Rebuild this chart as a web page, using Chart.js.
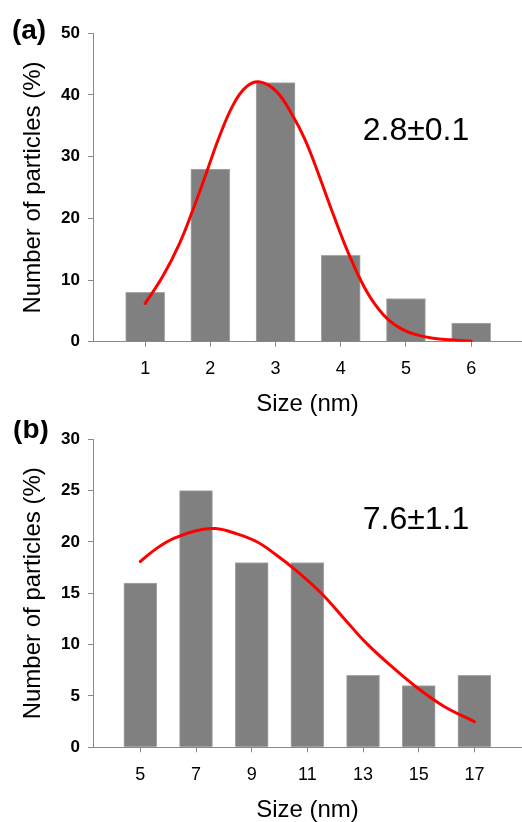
<!DOCTYPE html>
<html><head><meta charset="utf-8">
<script src="https://cdn.jsdelivr.net/npm/chart.js@4.4.1/dist/chart.umd.min.js"></script>
<style>
html,body{margin:0;padding:0;background:#fff;overflow:hidden;width:522px;height:822px;}
#ca{position:absolute;left:0;top:0;}
#cb{position:absolute;left:0;top:420px;}
</style></head><body>
<canvas id="ca" width="522" height="420" style="width:522px;height:420px"></canvas>
<canvas id="cb" width="522" height="410" style="width:522px;height:410px"></canvas>
<script>
// ---- data (a) ----
const sizesA = [1, 2, 3, 4, 5, 6];
const countsA = [8, 28, 42, 14, 7, 3];
const fitXA = [1.0, 1.27, 1.53, 1.73, 1.94, 2.14, 2.35, 2.55, 2.76, 3.02, 3.27, 3.45, 3.63, 3.89, 4.14, 4.4, 4.66, 4.91, 5.17, 5.42, 5.68, 6.0];
const fitYA = [6.2, 10.6, 16.0, 21.3, 27.4, 33.3, 38.4, 41.3, 42.1, 40.5, 36.5, 32.8, 28.0, 20.5, 13.8, 8.1, 4.3, 2.2, 1.1, 0.55, 0.3, 0.1];
const yTicksA = [0, 10, 20, 30, 40, 50];
// ---- data (b) ----
const sizesB = [5, 7, 9, 11, 13, 15, 17];
const countsB = [16, 25, 18, 18, 7, 6, 7];
const fitXB = [5.0, 5.6, 6.2, 7.0, 7.7, 8.4, 9.2, 9.9, 10.6, 11.5, 12.3, 13.1, 14.1, 14.9, 15.9, 17.0];
const fitYB = [18.1, 19.4, 20.35, 21.1, 21.3, 20.85, 20.0, 18.7, 17.2, 15.0, 12.6, 10.2, 7.7, 5.9, 4.0, 2.5];
const yTicksB = [0, 5, 10, 15, 20, 25, 30];
// ---- texts ----
const xTitle = 'Size (nm)';
const yTitle = 'Number of particles (%)';
const tagA = '(a)', meanA = '2.8±0.1';
const tagB = '(b)', meanB = '7.6±1.1';

const FONT = '"Liberation Sans", Arial, Helvetica, sans-serif';
const AXIS = '#888888';

const notes = {
  id: 'notes',
  afterDraw(chart, args, o) {
    const ctx = chart.ctx;
    ctx.save();
    ctx.fillStyle = '#000';
    ctx.textAlign = 'center';
    ctx.textBaseline = 'middle';
    ctx.font = 'bold 28px ' + FONT;
    ctx.fillText(o.tag, o.tagX, o.tagY);
    ctx.font = '32px ' + FONT;
    ctx.fillText(o.mean, o.meanX, o.meanY);
    ctx.restore();
  }
};

function makeChart(id, cfg) {
  const H = cfg.height;
  return new Chart(document.getElementById(id), {
    data: {
      datasets: [
        {
          type: 'line',
          data: cfg.fx.map((x, i) => ({x: x, y: cfg.fy[i]})),
          borderColor: '#ff0000',
          borderWidth: 3,
          pointRadius: 0,
          tension: 0.4,
          borderCapStyle: 'round',
          borderJoinStyle: 'round',
          fill: false,
          order: 0
        },
        {
          type: 'bar',
          data: cfg.sizes.map((x, i) => ({x: x, y: cfg.counts[i]})),
          backgroundColor: '#808080',
          borderColor: '#a8a8a8',
          borderWidth: 1,
          barThickness: cfg.barW,
          order: 1
        }
      ]
    },
    options: {
      responsive: false,
      animation: false,
      devicePixelRatio: 1,
      layout: {padding: {top: cfg.padTop, left: 0, right: 0, bottom: 0}},
      plugins: {
        legend: {display: false},
        tooltip: {enabled: false},
        notes: cfg.notes
      },
      scales: {
        x: {
          type: 'linear',
          min: cfg.xmin, max: cfg.xmax,
          offset: false,
          afterBuildTicks: s => { s.ticks = cfg.sizes.map(v => ({value: v})); },
          afterFit: s => { s.height = H - cfg.areaBottom; },
          grid: {drawOnChartArea: false, drawTicks: true, tickLength: 5, color: AXIS, offset: false},
          border: {display: true, color: AXIS, width: 1},
          ticks: {font: {family: FONT, size: 18}, color: '#000', padding: 12, maxRotation: 0, autoSkip: false},
          title: {display: true, text: xTitle, color: '#000', font: {family: FONT, size: 24}, padding: {top: 0, bottom: cfg.xtPad}}
        },
        y: {
          type: 'linear',
          min: cfg.yTicks[0], max: cfg.yTicks[cfg.yTicks.length - 1],
          afterBuildTicks: s => { s.ticks = cfg.yTicks.map(v => ({value: v})); },
          afterFit: s => { s.width = 93; },
          grid: {drawOnChartArea: false, drawTicks: true, tickLength: 5, color: AXIS},
          border: {display: true, color: AXIS, width: 1},
          ticks: {font: {family: FONT, size: 17, weight: 'bold'}, color: '#000', padding: 8},
          title: {display: true, text: yTitle, color: '#000', font: {family: FONT, size: 24}, padding: {top: 19, bottom: 0}}
        }
      }
    },
    plugins: [notes]
  });
}

makeChart('ca', {
  height: 420, padTop: 33.3, areaBottom: 341.7, xtPad: 1.1,
  sizes: sizesA, counts: countsA, fx: fitXA, fy: fitYA, yTicks: yTicksA,
  xmin: 0.2, xmax: 6.78, barW: 39,
  notes: {tag: tagA, tagX: 29, tagY: 31, mean: meanA, meanX: 416, meanY: 131}
});
makeChart('cb', {
  height: 410, padTop: 19.3, areaBottom: 327.3, xtPad: 5.1,
  sizes: sizesB, counts: countsB, fx: fitXB, fy: fitYB, yTicks: yTicksB,
  xmin: 3.3, xmax: 18.71, barW: 33,
  notes: {tag: tagB, tagX: 31, tagY: 10, mean: meanB, meanX: 416, meanY: 100.5}
});
</script>
</body></html>
